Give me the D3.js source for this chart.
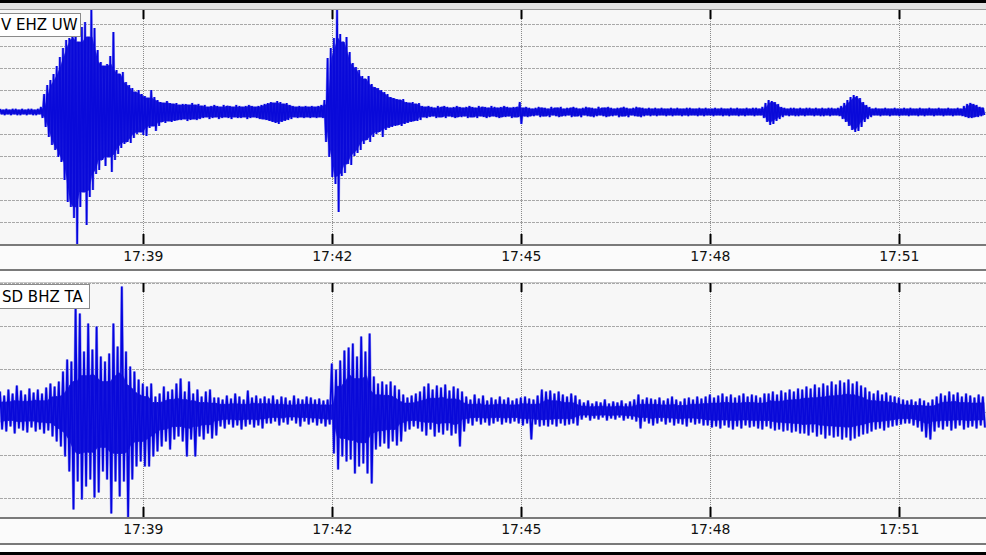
<!DOCTYPE html>
<html><head><meta charset="utf-8">
<script src="https://cdn.jsdelivr.net/npm/d3@7"></script>
<style>html,body{margin:0;padding:0;background:#fff;overflow:hidden}</style>
</head><body><svg id="c" width="986" height="555"></svg>
<script>
// ---------------- DATA ----------------
const startTime = "17:36:44", endTime = "17:52:23";
const tickLabels = ["17:39","17:42","17:45","17:48","17:51"];
const stations = ["V EHZ UW","SD BHZ TA"];
const topBinSeconds = 3, bottomBinSeconds = 4;
// amplitude gridlines (counts)
const topGrid = [-110,-88,-66,-44,-22,0,22,44,66,88];
const botGrid = [-86,-43,0,43,86,129];
const topRange = [-133, 103];
const botRange = [-106.5, 129.5];

// top trace: max / min per 3 s bin
const topHi = [3,2,3,2,3,3,2,3,2,3,3,2,3, 5,
 18,27,32,38,46,55,64,72,74,88,90,
 70,85,90,75,102,84,62,50,46,48,
 56,80,42,38,40,30,27,24,20,22,
 18,16,14,22,15,12,10,9,11,9,
 8,9,7,8,8,7,9,7,8,
 6,7,5,6,7,6,5,7,6,6,5,7,6,5,6,7,6,5,6,
 7,8,9,10,9,11,10,8,9,7,
 6,5,6,5,6,5,6,5,6,7,
 12,54,64,74,104,78,70,75,60,49,45,
 42,36,33,36,28,25,24,22,20,18,
 15,14,13,12,13,10,9,10,8,9,
 6,5,6,5,4,6,5,6,5,4,5,6,5,4,5,6,5,4,6,5,5,4,6,5,4,5,6,5,4,5,5,
 10,
 4,5,4,3,4,5,4,4,3,5,4,4,5,3,4,4,5,4,3,4,5,4,4,3,5,4,4,5,4,3,4,4,5,4,3,4,5,4,4,3,4,
 3,4,3,4,3,3,4,3,4,3,3,4,4,3,3,4,3,4,3,3,4,3,4,3,3,4,3,4,3,3,4,3,4,4,3,
 5,9,12,11,10,8,5,
 4,3,4,4,3,4,3,4,4,3,4,3,4,3,4,4,3,4,
 6,9,12,15,17,16,14,10,7,5,
 3,4,3,3,4,3,3,4,3,3,4,3,4,3,3,4,3,3,4,3,3,4,3,3,4,3,3,4,3,
 6,8,9,8,7,5,4];
const topLo = [-2,-3,-2,-3,-2,-3,-3,-2,-3,-2,-3,-3,-2, -6,
 -15,-25,-33,-38,-45,-50,-68,-90,-95,-106,-133,
 -95,-80,-113,-85,-78,-62,-58,-48,-54,-45,
 -60,-48,-42,-36,-32,-30,-31,-26,-22,-20,
 -23,-24,-16,-14,-19,-14,-10,-11,-9,-10,
 -9,-8,-8,-7,-9,-8,-7,-8,-7,
 -6,-5,-7,-6,-5,-7,-6,-5,-6,-7,-5,-6,-6,-5,-7,-6,-5,-6,-7,
 -7,-8,-9,-10,-11,-12,-10,-9,-8,-7,
 -5,-6,-5,-6,-5,-6,-5,-6,-5,-6,
 -30,-45,-65,-72,-100,-64,-61,-52,-53,-44,-41,
 -38,-32,-28,-30,-25,-22,-20,-25,-18,-16,
 -15,-14,-13,-14,-12,-11,-10,-9,-9,-8,
 -5,-6,-5,-4,-6,-5,-5,-6,-4,-5,-6,-5,-5,-4,-6,-5,-5,-6,-4,-5,-6,-5,-4,-5,-6,-5,-5,-4,-6,-5,-5,
 -12,
 -4,-5,-4,-4,-3,-5,-4,-4,-5,-3,-4,-5,-4,-4,-3,-5,-4,-4,-5,-3,-4,-4,-5,-4,-3,-4,-5,-4,-4,-3,-5,-4,-4,-5,-3,-4,-4,-5,-4,-3,-4,
 -3,-4,-3,-3,-4,-3,-4,-3,-3,-4,-3,-4,-3,-3,-4,-3,-4,-3,-3,-4,-3,-3,-4,-3,-4,-3,-3,-4,-3,-4,-3,-3,-4,-3,-3,
 -6,-10,-13,-12,-9,-7,-5,
 -3,-4,-3,-4,-4,-3,-4,-3,-3,-4,-3,-4,-4,-3,-4,-3,-3,-4,
 -7,-10,-14,-18,-20,-19,-15,-10,-7,-5,
 -3,-3,-4,-3,-3,-4,-3,-3,-4,-3,-3,-4,-3,-3,-4,-3,-4,-3,-3,-4,-3,-3,-4,-3,-3,-4,-3,-3,-4,
 -5,-6,-6,-5,-5,-4,-3];

// bottom trace: max / min per 4 s bin
const botHi = [20,16,22,18,26,21,17,23,19,22,18,24,
 28,25,30,40,
 52,50,105,98,60,88,62,85,55,50,58,88,65,125,60,45,40,32,28,25,28,15,18,25,20,22,28,33,20,30,18,22,15,20,22,14,
 14,12,16,13,18,15,12,21,14,16,13,15,
 13,16,12,15,14,11,16,13,12,15,14,12,13,11,12,
 48,42,51,61,64,68,55,75,60,78,35,28,30,27,30,26,22,17,14,16,18,
 20,25,28,22,26,24,27,21,25,23,20,
 15,12,17,13,16,11,14,12,15,
 12,14,11,13,
 14,15,13,12,16,
 22,20,21,18,20,17,15,18,16,
 12,9,11,8,10,9,12,8,10,9,11,8,10,12,
 17,12,14,13,
 12,14,11,13,15,12,10,13,14,12,15,13,
 15,17,14,16,18,15,17,14,16,18,15,17,16,14,18,
 18,20,17,21,19,22,20,23,
 22,25,23,27,24,28,26,30,27,31,29,32,28,30,26,24,
 20,18,21,17,19,16,15,14,12,
 11,12,10,13,11,9,12,
 15,18,16,20,17,19,15,18,16,14,17,15];
const botLo = [-18,-20,-15,-22,-17,-19,-21,-16,-20,-18,-22,-19,
 -25,-30,-35,-45,
 -60,-98,-70,-88,-75,-68,-86,-81,-60,-68,-102,-70,-85,-70,-106,-68,-55,-50,-55,-55,-45,-40,-35,-30,-38,-28,-25,-30,-45,-28,-45,-25,-28,-22,-27,-24,
 -15,-17,-13,-16,-14,-18,-15,-13,-16,-14,-17,-12,
 -12,-10,-14,-11,-13,-9,-12,-15,-10,-13,-11,-14,-12,-15,-13,
 -42,-58,-45,-50,-48,-62,-55,-52,-62,-72,-38,-35,-32,-37,-30,-34,-30,-20,-18,-15,-17,
 -20,-24,-18,-25,-21,-23,-19,-24,-22,-35,-20,
 -12,-14,-10,-13,-11,-14,-12,-10,-13,
 -11,-12,-10,-12,
 -14,-12,-28,-13,-15,
 -14,-15,-13,-15,-12,-14,-13,-12,-14,
 -8,-6,-9,-7,-8,-6,-9,-7,-8,-6,-9,-7,-8,-10,
 -17,-10,-12,-14,
 -12,-10,-13,-11,-14,-12,-13,-15,-11,-13,-12,-14,
 -14,-16,-15,-17,-14,-16,-18,-15,-17,-14,-16,-15,-17,-18,-15,
 -17,-19,-18,-20,-19,-21,-20,-22,
 -22,-24,-21,-25,-23,-27,-24,-26,-25,-28,-26,-29,-27,-25,-23,-22,
 -20,-18,-17,-19,-16,-15,-14,-13,-12,
 -12,-14,-16,-20,-26,-28,-20,
 -16,-18,-15,-19,-17,-14,-18,-16,-15,-17,-14,-16];

// ---------------- DRAW ----------------
const W = 986, H = 555;
const svg = d3.select("#c");
const parseS = d3.timeParse("%H:%M:%S"), parseM = d3.timeParse("%H:%M");
const t0 = parseS(startTime), t1 = parseS(endTime);
const tickDates = tickLabels.map(parseM);
const x = d3.scaleTime().domain([t0, t1]).range([0, W]);

svg.append("rect").attr("width", W).attr("height", H).attr("fill", "#fff");
svg.append("rect").attr("x", 0).attr("y", 0).attr("width", W).attr("height", 3).attr("fill", "#000");
svg.append("rect").attr("x", 0).attr("y", 3).attr("width", W).attr("height", 6).attr("fill", "#e2e2e2");
svg.append("rect").attr("x", 0).attr("y", 552).attr("width", W).attr("height", 3).attr("fill", "#000");

const panels = [
  {top: 9, bottom: 245, range: topRange, grid: topGrid, hi: topHi, lo: topLo, bin: topBinSeconds, label: stations[0],
   box: {x: -1, y: 13, w: 81, h: 23, tx: 1, ty: 30}, axisY: 246, lineY: 270, core: 1.5, halo: 2.6, bodyK: 1.0},
  {top: 282, bottom: 518, range: botRange, grid: botGrid, hi: botHi, lo: botLo, bin: bottomBinSeconds, label: stations[1],
   box: {x: -1, y: 284, w: 90, h: 24, tx: 2, ty: 302}, axisY: 519, lineY: 544, core: 1.6, halo: 2.7, bodyK: 0.6}
];

panels.forEach((p, k) => {
  const y = d3.scaleLinear().domain(p.range).range([p.bottom, p.top]);
  const g = svg.append("g");
  const clipId = "clip" + k;
  svg.append("clipPath").attr("id", clipId).append("rect")
    .attr("x", 0).attr("y", p.top).attr("width", W).attr("height", p.bottom - p.top);

  g.append("rect").attr("x", 0).attr("y", p.top).attr("width", W).attr("height", p.bottom - p.top).attr("fill", "#f7f7f7");

  // horizontal dashed gridlines
  g.selectAll(".hg").data(p.grid).enter().append("line")
    .attr("x1", 0).attr("x2", W)
    .attr("y1", d => Math.round(y(d)) + 0.5).attr("y2", d => Math.round(y(d)) + 0.5)
    .attr("stroke", "#a8a8a8").attr("stroke-width", 1).attr("stroke-dasharray", "3,1");

  // vertical dotted gridlines
  g.selectAll(".vg").data(tickDates).enter().append("line")
    .attr("x1", d => Math.round(x(d)) + 0.5).attr("x2", d => Math.round(x(d)) + 0.5)
    .attr("y1", p.top).attr("y2", p.bottom)
    .attr("stroke", "#8a8a8a").attr("stroke-width", 1).attr("stroke-dasharray", "1,1");

  const tAt = (i, off) => new Date(t0.getTime() + (i + off) * p.bin * 1000);
  const tg = g.append("g").attr("clip-path", `url(#${clipId})`);

  // dense body: the amplitude shared by neighbouring bins, drawn solid
  const body = p.hi.map((v, i) => ({
    t: tAt(i, 0.25),
    up: p.bodyK * Math.min(v, p.hi[Math.max(0, i - 1)], p.hi[Math.min(p.hi.length - 1, i + 1)]),
    dn: p.bodyK * Math.max(p.lo[i], p.lo[Math.max(0, i - 1)], p.lo[Math.min(p.lo.length - 1, i + 1)])
  }));
  const area = d3.area().x(d => x(d.t)).y0(d => y(d.dn)).y1(d => y(d.up)).curve(d3.curveLinear);
  tg.append("path").attr("d", area(body)).attr("fill", "#0a0ad8").attr("stroke", "#0a0ad8").attr("stroke-width", 1);

  // waveform: zigzag between bin max and min
  const pts = [];
  p.hi.forEach((v, i) => {
    pts.push([tAt(i, 0), v]);
    pts.push([tAt(i, 0.5), p.lo[i]]);
  });
  const line = d3.line().x(d => x(d[0])).y(d => y(d[1]));
  tg.append("path").attr("d", line(pts)).attr("fill", "none")
    .attr("stroke", "#7f7ff2").attr("stroke-width", p.halo).attr("stroke-linejoin", "bevel").attr("opacity", 0.9);
  tg.append("path").attr("d", line(pts)).attr("fill", "none")
    .attr("stroke", "#0404de").attr("stroke-width", p.core).attr("stroke-linejoin", "bevel");
  tg.append("path").attr("d", area(body)).attr("fill", "#0a0ad8").attr("opacity", 0.85);

  // tick marks top & bottom
  g.selectAll(".tt").data(tickDates).enter().append("line")
    .attr("x1", d => Math.round(x(d)) + 0.5).attr("x2", d => Math.round(x(d)) + 0.5)
    .attr("y1", p.top).attr("y2", p.top + 10)
    .attr("stroke", "#000").attr("stroke-width", 2);
  g.selectAll(".tb").data(tickDates).enter().append("line")
    .attr("x1", d => Math.round(x(d)) + 0.5).attr("x2", d => Math.round(x(d)) + 0.5)
    .attr("y1", p.bottom - 11).attr("y2", p.bottom)
    .attr("stroke", "#000").attr("stroke-width", 2);

  // borders
  g.append("line").attr("x1", 0).attr("x2", W).attr("y1", p.top + 0.5).attr("y2", p.top + 0.5)
    .attr("stroke", k === 0 ? "#9a9a9a" : "#c8c8c8").attr("stroke-width", 1);
  g.append("line").attr("x1", 0).attr("x2", W).attr("y1", p.bottom).attr("y2", p.bottom)
    .attr("stroke", "#7a7a7a").attr("stroke-width", 2);

  // axis band + labels
  g.append("rect").attr("x", 0).attr("y", p.bottom + 1).attr("width", W).attr("height", p.lineY - p.bottom - 2).attr("fill", "#fbfbfb");
  g.append("line").attr("x1", 0).attr("x2", W).attr("y1", p.lineY).attr("y2", p.lineY)
    .attr("stroke", "#7a7a7a").attr("stroke-width", 2);
  const ax = d3.axisBottom(x).tickValues(tickDates).tickFormat(d3.timeFormat("%H:%M")).tickSize(0).tickPadding(5);
  const axg = g.append("g").attr("transform", `translate(0,${p.axisY})`).call(ax);
  axg.select(".domain").remove();
  axg.selectAll("text").attr("font-family", "DejaVu Sans, sans-serif").attr("font-size", 14).attr("fill", "#111");

  // station label box
  g.append("rect").attr("x", p.box.x + 0.5).attr("y", p.box.y + 0.5).attr("width", p.box.w).attr("height", p.box.h)
    .attr("fill", "#fff").attr("stroke", "#8a8a8a").attr("stroke-width", 1);
  g.append("text").attr("x", p.box.tx).attr("y", p.box.ty).attr("text-anchor", "start")
    .attr("font-family", "DejaVu Sans, sans-serif").attr("font-size", 15).attr("fill", "#000")
    .text(p.label);
});
</script></body></html>
